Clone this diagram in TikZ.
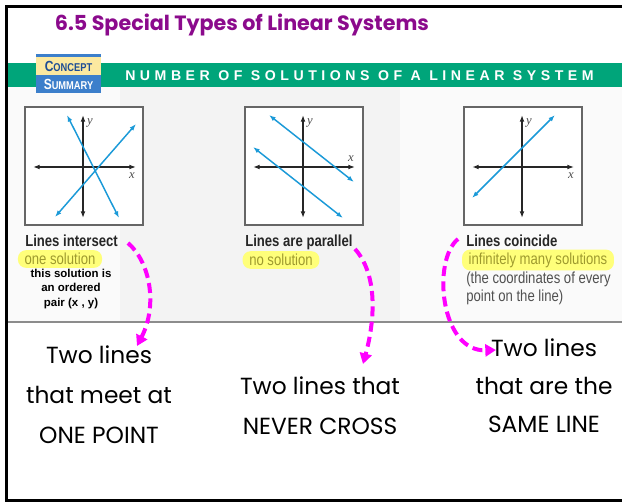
\documentclass[tikz,border=0pt]{standalone}
\usepackage{fontspec}
\setmainfont{Liberation Sans}
\newfontfamily\comicfont{Poppins}
\newfontfamily\narrowfont[FakeStretch=0.82]{Liberation Sans}
\newfontfamily\bandfont[LetterSpace=32]{Liberation Sans}
\newfontfamily\labelfont{Liberation Serif}
\usetikzlibrary{
  arrows.meta,              % Latex / Triangle tips
  positioning               % relative placement
}
\definecolor{titlepurple}{HTML}{8B0A8C}
\definecolor{bandgreen}{HTML}{00A57A}
\definecolor{csyellow}{HTML}{FCE9A0}
\definecolor{csblue}{HTML}{3C7FCB}
\definecolor{csdark}{HTML}{1E4D95}
\definecolor{panelgray}{HTML}{F3F3F3}
\definecolor{lineblue}{HTML}{1B9AD8}
\definecolor{hilite}{HTML}{FFFF7A}
\definecolor{olivetext}{HTML}{9E9A2E}
\definecolor{notegray}{HTML}{505050}
\definecolor{pointerpink}{HTML}{FF00FF}
\tikzset{
  axis/.style={
    {Latex[length=5pt,width=3.6pt]}-{Latex[length=5pt,width=3.6pt]},
    line width=1.2pt,
    color=black!85
  },
  graph line/.style={
    {Latex[length=5pt,width=3.6pt]}-{Latex[length=5pt,width=3.6pt]},
    line width=1.1pt,
    color=lineblue
  },
  graph box/.style={
    draw=black!60,
    line width=0.8pt,
    fill=white
  },
  axis label/.style={
    font=\labelfont\itshape\fontsize{9.5}{10}\selectfont,
    text=black!70,
    inner sep=1pt
  },
  caption/.style={
    anchor=base west,
    inner sep=0pt,
    font=\narrowfont\bfseries\fontsize{12}{13}\selectfont,
    text=black!85
  },
  highlight/.style={
    fill=hilite,
    rounded corners=6pt,
    inner xsep=5pt,
    inner ysep=2.2pt,
    font=\narrowfont\fontsize{12}{13}\selectfont,
    text=olivetext
  },
  hand text/.style={
    align=center,
    font=\comicfont\fontsize{17.5}{30}\selectfont
  },
  pointer/.style={
    -{Triangle[length=8pt,width=9pt]},
    line width=3pt,
    dash pattern=on 7.5pt off 4pt,
    color=pointerpink
  }
}

\begin{document}
\begin{tikzpicture}[x=0.75pt, y=-0.75pt]
    \useasboundingbox (0,0) rectangle (622,503);

    % --- 标题与横幅 ---
    \node[font=\comicfont\bfseries\fontsize{15.5}{18}\selectfont, text=titlepurple]
      (title) at (242,25) {6.5 Special Types of Linear Systems};

    \fill[panelgray] (7,87) rectangle (622,322);
    \fill[white!60!panelgray] (7,87) rectangle (120,322);
    \fill[white!60!panelgray] (400,87) rectangle (622,322);
    \draw[black!45, line width=1pt] (7,322) -- (622,322);

    \fill[bandgreen] (7,63) rectangle (622,87);
    \node[anchor=west, inner sep=0pt, text=white,
          font=\bandfont\bfseries\fontsize{10.6}{12}\selectfont]
      (band) at (125,76) {NUMBER OF SOLUTIONS OF A LINEAR SYSTEM};

    % Concept Summary 标签
    \fill[csblue] (36,54) rectangle (101,57);
    \fill[csyellow] (36,57) rectangle (101,75);
    \fill[csblue] (36,75) rectangle (101,93);
    \node[text=csdark, inner sep=0pt, font=\narrowfont\bfseries\fontsize{8.5}{10}\selectfont]
      (concept) at (68.5,66.5) {{\fontsize{11}{10}\selectfont C}ONCEPT};
    \node[text=white, inner sep=0pt, font=\narrowfont\bfseries\fontsize{8.5}{10}\selectfont]
      (summary) at (68.5,84.5) {{\fontsize{11}{10}\selectfont S}UMMARY};

    % --- 图 1：相交 ---
    \begin{scope}[shift={(25,107)}]
      \draw[graph box] (0,0) rectangle (118,118);
      \draw[axis] (8,60) -- (111,60);
      \draw[axis] (58,111) -- (58,8);
      \draw[graph line] (42,8) -- (94,111);
      \draw[graph line] (30,110) -- (111,17);
      \node[axis label] (y1) at (65,16) {y};
      \node[axis label] (x1) at (107,69) {x};
    \end{scope}

    % --- 图 2：平行 ---
    \begin{scope}[shift={(245,107)}]
      \draw[graph box] (0,0) rectangle (118,118);
      \draw[axis] (8,60) -- (110,60);
      \draw[axis] (58,111) -- (58,8);
      \draw[graph line] (24,8) -- (109,75);
      \draw[graph line] (8,40) -- (98,111);
      \node[axis label] (y2) at (65,16) {y};
      \node[axis label] (x2) at (106,52) {x};
    \end{scope}

    % --- 图 3：重合 ---
    \begin{scope}[shift={(464,107)}]
      \draw[graph box] (0,0) rectangle (118,118);
      \draw[axis] (8,60) -- (110,60);
      \draw[axis] (58,111) -- (58,8);
      \draw[graph line] (8,91) -- (91,8);
      \node[axis label] (y3) at (65,16) {y};
      \node[axis label] (x3) at (107,69) {x};
    \end{scope}

    % 说明文字
    \node[caption] (cap1) at (25,246) {Lines intersect};
    \node[highlight] (sol1) at (60,259) {one solution};
    \node[align=center, inner sep=0pt, font=\bfseries\fontsize{8.6}{11.2}\selectfont]
      (pair) at (71,289) {this solution is\\an ordered\\pair (x , y)};

    \node[caption] (cap2) at (245,246) {Lines are parallel};
    \node[highlight] (sol2) at (281,260) {no solution};

    \node[caption] (cap3) at (466,246) {Lines coincide};
    \node[highlight] (sol3) at (538,260) {infinitely many solutions};
    \node[anchor=north west, align=left, inner sep=0pt, text=notegray,
          font=\narrowfont\fontsize{12}{13.2}\selectfont]
      (every) at (466,272) {(the coordinates of every\\point on the line)};

    % --- 手写注释 ---
    \node[hand text] (meet) at (99,395) {Two lines\\that meet at\\ONE POINT};
    \node[hand text] (never) at (320,406) {Two lines that\\NEVER CROSS};
    \node[hand text, font=\comicfont\fontsize{17.5}{28.5}\selectfont]
      (same) at (544,386) {Two lines\\that are the\\SAME LINE};

    \coordinate (from1) at (128,243);
    \coordinate (to1) at (137,346);
    \coordinate (from2) at (355,249);
    \coordinate (to2) at (363,364);
    \coordinate (from3) at (458,239);
    \coordinate (to3) at (496,350);
    \draw[pointer] (from1) .. controls (150,262) and (158,305) .. (to1);
    \draw[pointer] (from2) .. controls (378,275) and (375,320) .. (to2);
    \draw[pointer] (from3) .. controls (432,260) and (440,352) .. (to3);

    % 外框
    \draw[line width=2.2pt] (622,6.5) -- (6.5,6.5) -- (6.5,500.5) -- (622,500.5);
  \end{tikzpicture}
\end{document}
